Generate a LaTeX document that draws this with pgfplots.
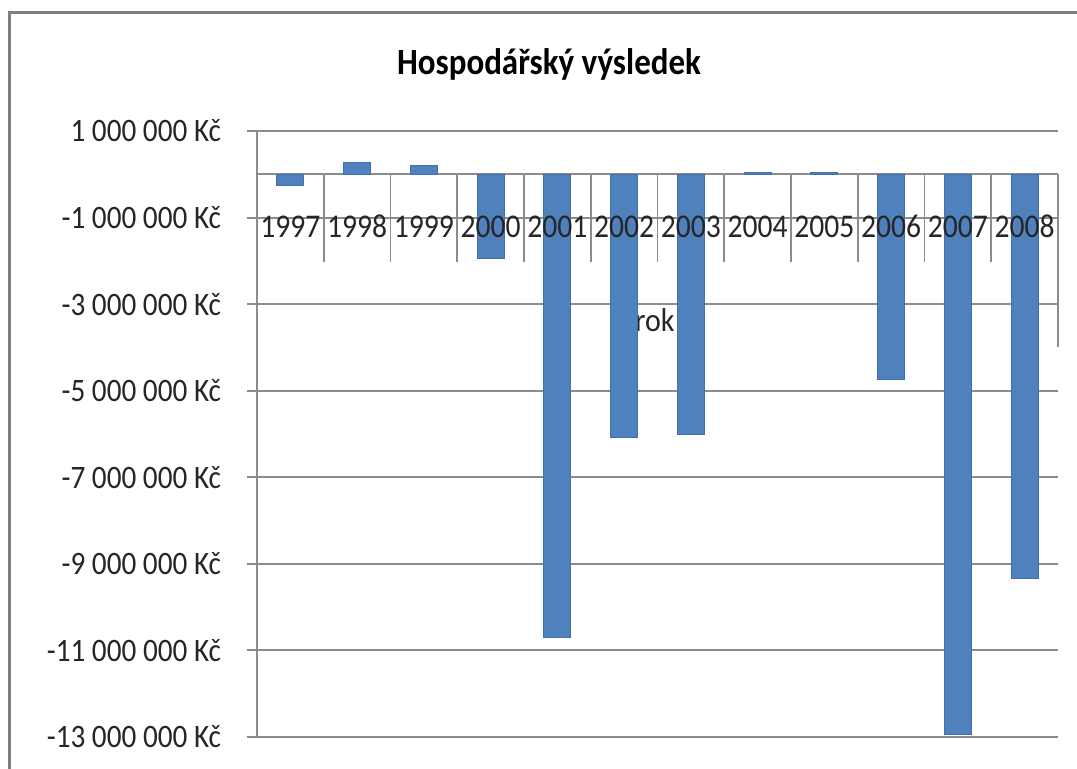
\documentclass[border=0pt]{standalone}
\usepackage{pgfplots}
\pgfplotsset{compat=1.18}
\usepackage{fontspec}
\setmainfont{Carlito}[Numbers={Monospaced,Lining}]
\definecolor{barblue}{RGB}{79,129,189}
\definecolor{baredge}{RGB}{65,112,170}
\definecolor{axisgray}{RGB}{140,140,140}
\definecolor{framegray}{RGB}{128,128,128}
\pgfplotsset{
  commonaxis/.style={
    at={(128.5pt,16pt)}, anchor=south west,
    scale only axis, width=400.5pt, height=303pt,
    xmin=-0.5, xmax=11.5, ymin=-13000000, ymax=1000000,
    enlargelimits=false, clip=false, scaled y ticks=false,
  },
}
\begin{document}
\begin{tikzpicture}
\useasboundingbox (0,0) rectangle (538.5pt,384.5pt);
\fill[white] (0,0) rectangle (538.5pt,384.5pt);
\draw[framegray, line width=1.2pt] (4.75pt,-5pt) -- (4.75pt,378.25pt) -- (545pt,378.25pt);
\node[font=\bfseries\fontsize{16.5}{19}\selectfont, yscale=1.12] at (274.5pt,352.5pt) {Hospodářský výsledek};
\begin{axis}[
  commonaxis,
  axis x line=middle, axis y line=left,
  axis line style={-, draw=axisgray, line width=1pt},
  xtick=\empty,
  ytick={-13000000,-11000000,-9000000,-7000000,-5000000,-3000000,-1000000,1000000},
  yticklabels={-13 000 000 Kč,-11 000 000 Kč,-9 000 000 Kč,-7 000 000 Kč,-5 000 000 Kč,-3 000 000 Kč,-1 000 000 Kč,1 000 000 Kč},
  tick align=outside, major tick length=5pt,
  major y tick style={axisgray, line width=1pt},
  ymajorgrids, grid style={axisgray, line width=1pt},
  yticklabel style={font=\fontsize{14.6}{18}\selectfont, yscale=1.12, anchor=east, xshift=-9.5pt, text=black!85},
]
\node[fill=white, inner sep=1pt, font=\fontsize{15}{18}\selectfont, yscale=1.1, text=black!85] at (axis cs:5.46,-3360000) {rok};
\draw[axisgray, line width=0.8pt] (axis cs:0.5,0) -- (axis cs:0.5,-2030000);
\draw[axisgray, line width=0.8pt] (axis cs:1.5,0) -- (axis cs:1.5,-2030000);
\draw[axisgray, line width=0.8pt] (axis cs:2.5,0) -- (axis cs:2.5,-2030000);
\draw[axisgray, line width=0.8pt] (axis cs:3.5,0) -- (axis cs:3.5,-2030000);
\draw[axisgray, line width=0.8pt] (axis cs:4.5,0) -- (axis cs:4.5,-2030000);
\draw[axisgray, line width=0.8pt] (axis cs:5.5,0) -- (axis cs:5.5,-2030000);
\draw[axisgray, line width=0.8pt] (axis cs:6.5,0) -- (axis cs:6.5,-2030000);
\draw[axisgray, line width=0.8pt] (axis cs:7.5,0) -- (axis cs:7.5,-2030000);
\draw[axisgray, line width=0.8pt] (axis cs:8.5,0) -- (axis cs:8.5,-2030000);
\draw[axisgray, line width=0.8pt] (axis cs:9.5,0) -- (axis cs:9.5,-2030000);
\draw[axisgray, line width=0.8pt] (axis cs:10.5,0) -- (axis cs:10.5,-2030000);
\draw[axisgray, line width=0.8pt] (axis cs:11.5,0) -- (axis cs:11.5,-4000000);
\addplot[ybar, bar width=13.5pt, bar shift=0pt, fill=barblue, draw=baredge, line width=0.4pt]
 coordinates {(0,-260000) (1,270000) (2,200000) (3,-1940000) (4,-10690000) (5,-6090000)
   (6,-6020000) (7,50000) (8,40000) (9,-4730000) (10,-12950000) (11,-9330000)};
\end{axis}
\begin{axis}[
  commonaxis,
  axis x line=middle, axis y line=none,
  axis line style={draw=none},
  xtick={0,1,2,3,4,5,6,7,8,9,10,11},
  xticklabels={1997,1998,1999,2000,2001,2002,2003,2004,2005,2006,2007,2008},
  major x tick style={draw=none},
  xticklabel style={font=\fontsize{14.8}{18}\selectfont, yscale=1.12, anchor=center, yshift=-21.5pt, text=black!85},
]
\end{axis}
\end{tikzpicture}
\end{document}
